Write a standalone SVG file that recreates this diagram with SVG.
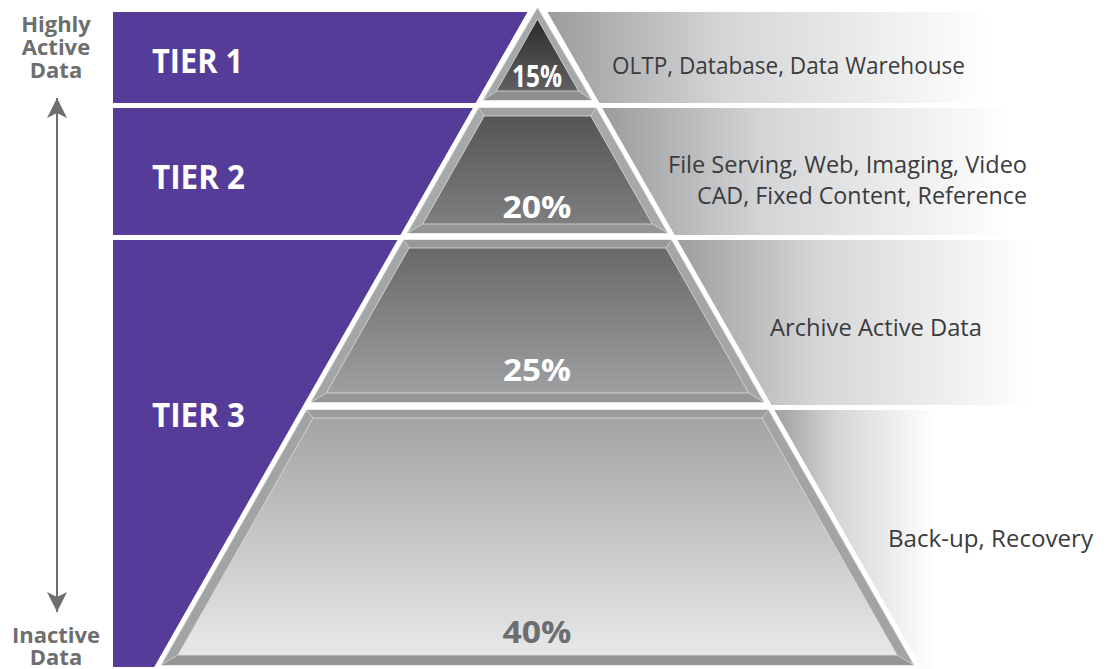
<svg xmlns="http://www.w3.org/2000/svg" width="1111" height="669" viewBox="0 0 1111 669">
<style>
.purple{fill:#553c98}
.tier{font-family:"Open Sans","Liberation Sans",sans-serif;font-weight:700;font-size:34px;fill:#ffffff}
.axis{font-family:"Open Sans","Liberation Sans",sans-serif;font-weight:700;font-size:22px;fill:#6d6e70}
.desc{font-family:"Open Sans","Liberation Sans",sans-serif;font-weight:400;font-size:23px;fill:#3b3b3d}
.pct{font-family:"Open Sans","Liberation Sans",sans-serif;font-weight:700;font-size:31px;fill:#ffffff;text-anchor:middle}
.edge{stroke:#c4c5c7;stroke-width:0.8}
.hl{fill:none;stroke:#dcdddf;stroke-width:0.8}
.miter{stroke:#d4d5d7;stroke-width:0.8}
</style>
<defs>
<linearGradient id="b1" gradientUnits="userSpaceOnUse" x1="545" y1="0" x2="990" y2="0"><stop offset="0" stop-color="#9a9b9d"/><stop offset="0.4" stop-color="#d4d5d6"/><stop offset="1" stop-color="#ffffff"/></linearGradient>
<linearGradient id="b2" gradientUnits="userSpaceOnUse" x1="600" y1="0" x2="1010" y2="0"><stop offset="0" stop-color="#9a9b9d"/><stop offset="0.4" stop-color="#d4d5d6"/><stop offset="1" stop-color="#ffffff"/></linearGradient>
<linearGradient id="b3" gradientUnits="userSpaceOnUse" x1="672" y1="0" x2="1030" y2="0"><stop offset="0" stop-color="#9a9b9d"/><stop offset="0.4" stop-color="#d4d5d6"/><stop offset="1" stop-color="#ffffff"/></linearGradient>
<linearGradient id="b4" gradientUnits="userSpaceOnUse" x1="770" y1="0" x2="935" y2="0"><stop offset="0" stop-color="#9a9b9d"/><stop offset="0.4" stop-color="#d4d5d6"/><stop offset="1" stop-color="#ffffff"/></linearGradient>
<linearGradient id="f1" x1="0" y1="0" x2="0" y2="1"><stop offset="0" stop-color="#2b2b2c"/><stop offset="1" stop-color="#606062"/></linearGradient>
<linearGradient id="f2" x1="0" y1="0" x2="0" y2="1"><stop offset="0" stop-color="#555557"/><stop offset="1" stop-color="#7e7e80"/></linearGradient>
<linearGradient id="f3" x1="0" y1="0" x2="0" y2="1"><stop offset="0" stop-color="#69696b"/><stop offset="1" stop-color="#9e9fa1"/></linearGradient>
<linearGradient id="f4" x1="0" y1="0" x2="0" y2="1"><stop offset="0" stop-color="#a3a4a6"/><stop offset="1" stop-color="#e8e8e9"/></linearGradient>
<marker id="ah" viewBox="0 0 20 20" refX="20" refY="10" markerWidth="20" markerHeight="20" markerUnits="userSpaceOnUse" orient="auto-start-reverse"><path d="M0,0 L20,10 L0,20 L5,10 z" fill="#6d6e70"/></marker>
</defs>
<rect width="1111" height="669" fill="#ffffff"/>

<g id="tier1">
<polygon class="purple" points="113,12 527.5,12 475.6,103 113,103"/>
<text class="tier" x="152" y="73" textLength="91" lengthAdjust="spacingAndGlyphs">TIER 1</text>
</g>
<g id="tier2">
<polygon class="purple" points="113,108 472.8,108 400.4,235 113,235"/>
<text class="tier" x="152" y="189" textLength="93" lengthAdjust="spacingAndGlyphs">TIER 2</text>
</g>
<g id="tier3">
<polygon class="purple" points="113,240 397.5,240 154.2,667 113,667"/>
<text class="tier" x="152" y="427" textLength="93" lengthAdjust="spacingAndGlyphs">TIER 3</text>
</g>

<g id="desc1">
<polygon fill="url(#b1)" points="547.5,12 1111,12 1111,103 599.4,103"/>
<text class="desc" x="612" y="74" textLength="353" lengthAdjust="spacingAndGlyphs">OLTP, Database, Data Warehouse</text>
</g>
<g id="desc2">
<polygon fill="url(#b2)" points="602.2,108 1111,108 1111,235 674.6,235"/>
<text class="desc" x="1027" y="173" text-anchor="end" textLength="359" lengthAdjust="spacingAndGlyphs">File Serving, Web, Imaging, Video</text>
<text class="desc" x="1027" y="204" text-anchor="end" textLength="330" lengthAdjust="spacingAndGlyphs">CAD, Fixed Content, Reference</text>
</g>
<g id="desc3">
<polygon fill="url(#b3)" points="677.5,240 1111,240 1111,405 771.5,405"/>
<text class="desc" x="770" y="336" textLength="212" lengthAdjust="spacingAndGlyphs">Archive Active Data</text>
</g>
<g id="desc4">
<polygon fill="url(#b4)" points="774.4,410 1111,410 1111,669 920.3,669 920.3,666"/>
<text class="desc" x="888" y="547" textLength="205" lengthAdjust="spacingAndGlyphs">Back-up, Recovery</text>
</g>

<g id="level15">
<polygon class="edge" fill="#a6a7a9" points="537.5,8 591.7,100 483.3,100"/>
<polygon fill="#8e8f91" points="483.3,100 591.7,100 578.5,91 496.5,91"/>
<polygon fill="url(#f1)" points="537.5,19 578.5,91 496.5,91"/>
<polygon class="hl" points="537.5,19 578.5,91 496.5,91"/>
<line class="miter" x1="483.3" y1="100" x2="496.5" y2="91"/><line class="miter" x1="591.7" y1="100" x2="578.5" y2="91"/>
<text class="pct" x="537" y="87" font-size="25" textLength="50" lengthAdjust="spacingAndGlyphs">15%</text>
</g>
<g id="level20">
<polygon class="edge" fill="#a7a8aa" points="478.8,108 596.2,108 667.5,233 407.5,233"/>
<polygon fill="#a0a1a3" points="478.8,108 596.2,108 590.8,116 484.2,116"/>
<polygon fill="#939496" points="407.5,233 667.5,233 652.3,224 422.7,224"/>
<polygon fill="url(#f2)" points="484.2,116 590.8,116 652.3,224 422.7,224"/>
<polygon class="hl" points="484.2,116 590.8,116 652.3,224 422.7,224"/>
<line class="miter" x1="478.8" y1="108" x2="484.2" y2="116"/><line class="miter" x1="596.2" y1="108" x2="590.8" y2="116"/><line class="miter" x1="407.5" y1="233" x2="422.7" y2="224"/><line class="miter" x1="667.5" y1="233" x2="652.3" y2="224"/>
<text class="pct" x="537" y="218" textLength="69" lengthAdjust="spacingAndGlyphs">20%</text>
</g>
<g id="level25">
<polygon class="edge" fill="#a4a5a7" points="403.6,240 671.4,240 763.8,402 311.2,402"/>
<polygon fill="#98999b" points="403.6,240 671.4,240 666,248 409,248"/>
<polygon fill="#959698" points="311.2,402 763.8,402 748.7,393 326.3,393"/>
<polygon fill="url(#f3)" points="409,248 666,248 748.7,393 326.3,393"/>
<polygon class="hl" points="409,248 666,248 748.7,393 326.3,393"/>
<line class="miter" x1="403.6" y1="240" x2="409" y2="248"/><line class="miter" x1="671.4" y1="240" x2="666" y2="248"/><line class="miter" x1="311.2" y1="402" x2="326.3" y2="393"/><line class="miter" x1="763.8" y1="402" x2="748.7" y2="393"/>
<text class="pct" x="537" y="381" textLength="68" lengthAdjust="spacingAndGlyphs">25%</text>
</g>
<g id="level40">
<polygon class="edge" fill="#a2a3a5" points="306.7,410 768.4,410 913.7,665 161.3,665"/>
<polygon fill="#9c9d9f" points="306.7,410 768.4,410 761.9,418 313.1,418"/>
<polygon fill="#949597" points="161.3,665 913.7,665 897,655 178,655"/>
<polygon fill="url(#f4)" points="313.1,418 761.9,418 897,655 178,655"/>
<polygon class="hl" points="313.1,418 761.9,418 897,655 178,655"/>
<line class="miter" x1="306.7" y1="410" x2="313.1" y2="418"/><line class="miter" x1="768.4" y1="410" x2="761.9" y2="418"/><line class="miter" x1="161.3" y1="665" x2="178" y2="655"/><line class="miter" x1="913.7" y1="665" x2="897" y2="655"/>
<text class="pct" x="537" y="643" fill="#6d6e70" style="fill:#6d6e70" textLength="69" lengthAdjust="spacingAndGlyphs">40%</text>
</g>

<g id="label-active">
<text class="axis" x="56" y="32" text-anchor="middle">Highly</text>
<text class="axis" x="56" y="55" text-anchor="middle">Active</text>
<text class="axis" x="56" y="78" text-anchor="middle">Data</text>
</g>
<g id="label-inactive">
<text class="axis" x="56" y="643" text-anchor="middle">Inactive</text>
<text class="axis" x="56" y="665" text-anchor="middle">Data</text>
</g>

<g id="connectors">
<line x1="57" y1="98" x2="57" y2="612" stroke="#6d6e70" stroke-width="2" marker-start="url(#ah)" marker-end="url(#ah)"/>
</g>
</svg>
